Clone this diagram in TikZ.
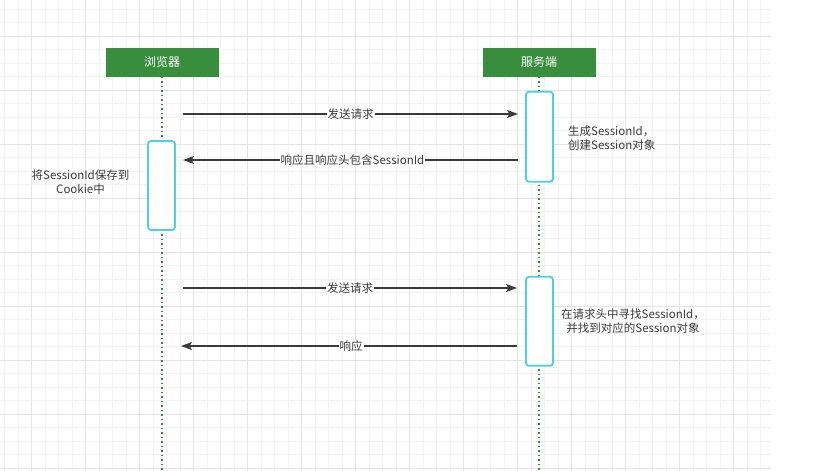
\documentclass[tikz,border=0pt]{standalone}
\usepackage{fontspec}
\setmainfont{Noto Sans CJK SC}
\usetikzlibrary{arrows.meta}
\definecolor{gridminor}{HTML}{F3F3F3}
\definecolor{gridmajor}{HTML}{E4E4E4}
\definecolor{hdrgreen}{HTML}{388E3C}
\definecolor{lifegreen}{HTML}{2E8B3A}
\definecolor{actcyan}{HTML}{4DD0E1}
\definecolor{txt}{HTML}{3A3A3A}
\tikzset{
  hdr/.style={draw=none, fill=hdrgreen, text=white, minimum width=113pt, minimum height=29pt, inner sep=0pt, font=\fontsize{12}{14}\selectfont},
  life/.style={lifegreen, line width=1.6pt, dash pattern=on 1.6pt off 2.9pt},
  act/.style={draw=actcyan, fill=white, line width=1.8pt, rounded corners=3pt, minimum width=27pt, inner sep=0pt},
  msg/.style={txt, line width=1.4pt, -{Stealth[length=11pt,width=8pt,inset=2.5pt]}},
  lbl/.style={fill=white, text=txt, inner sep=1pt, font=\fontsize{11.5}{13}\selectfont},
  note/.style={text=txt, inner sep=0pt, font=\fontsize{11.5}{14}\selectfont}
}
\begin{document}
\begin{tikzpicture}[x=1pt,y=-1pt]
\useasboundingbox (0,0) rectangle (814,471);
% grid
\foreach \x in {4.5,18,...,770} \draw[gridminor,line width=1pt] (\x,0) -- (\x,471);
\foreach \y in {9,22.5,...,470} \draw[gridminor,line width=1pt] (0,\y) -- (771,\y);
\foreach \x in {31.5,85.5,...,770} \draw[gridmajor,line width=1pt] (\x,0) -- (\x,471);
\foreach \y in {36,90,...,470} \draw[gridmajor,line width=1pt] (0,\y) -- (771,\y);
% headers
\node[hdr] (browser) at (162,62) {浏览器};
\node[hdr] (server) at (539,62) {服务端};
% lifelines
\coordinate (bEnd) at (162,471);
\coordinate (sEnd) at (539,471);
\draw[life] (browser.south) -- (bEnd);
\draw[life] (server.south) -- (sEnd);
% activations
\node[act, minimum height=89pt] (bAct) at (161.5,185.5) {};
\node[act, minimum height=90pt] (sAct1) at (539.5,136.7) {};
\node[act, minimum height=89pt] (sAct2) at (539.5,321.3) {};
% message end points
\coordinate (m1s) at (183,114);
\coordinate (m1e) at (518,114);
\coordinate (m2s) at (518,160);
\coordinate (m2e) at (183,160);
\coordinate (m3s) at (183,288);
\coordinate (m3e) at (517,288);
\coordinate (m4s) at (517,346);
\coordinate (m4e) at (181,346);
\draw[msg] (m1s) -- node[lbl] {发送请求} (m1e);
\draw[msg] (m2s) -- node[lbl, xshift=2pt] {响应且响应头包含SessionId} (m2e);
\draw[msg] (m3s) -- node[lbl] {发送请求} (m3e);
\draw[msg] (m4s) -- node[lbl, xshift=2pt] {响应} (m4e);
% notes
\node[note, align=center] (noteB) at (80.5,182) {将SessionId保存到\\Cookie中};
\node[note, align=left, anchor=west] (noteS1) at (568,138.5) {生成SessionId，\\创建Session对象};
\node[note, align=center] (noteS2) at (633,321.5) {在请求头中寻找SessionId，\\并找到对应的Session对象};
\end{tikzpicture}
\end{document}
